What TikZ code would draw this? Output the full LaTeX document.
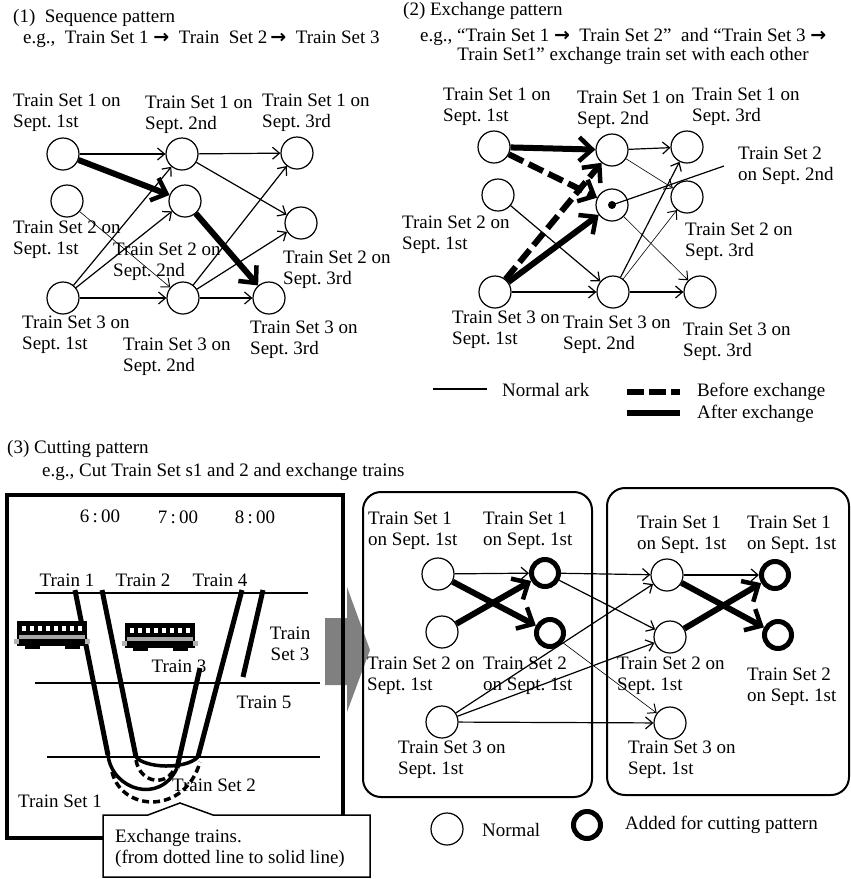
\documentclass[tikz,border=0pt]{standalone}
\usepackage{fontspec}
\setmainfont{Liberation Serif}
\newfontfamily\arrfont{DejaVu Sans}
\usetikzlibrary{arrows.meta}
\newcommand{\tsarrow}{{\arrfont\bfseries →}}
\frenchspacing

\begin{document}
\begin{tikzpicture}[x=1pt,y=-1pt,font=\fontsize{19}{21}\selectfont,
  st/.style={circle,draw,line width=1.2pt,minimum size=32pt,inner sep=0pt},
  cutst/.style={circle,draw,line width=5pt,minimum size=27pt,inner sep=0pt},
  lbl/.style={anchor=west,align=left,inner sep=0pt},
  ark/.style={line width=1.2pt,-{Straight Barb[length=7pt,width=12pt]}},
  fine/.style={line width=0.6pt,-{Straight Barb[length=7pt,width=12pt,line width=1pt]}},
  heavy/.style={line width=6pt,-{Straight Barb[length=13pt,width=24pt,line width=4.5pt]}},
  before/.style={heavy,dash pattern=on 16pt off 6pt},
  route/.style={line width=5pt},
  station/.style={line width=2.2pt},
  turn/.style={line width=3.5pt},
  oldturn/.style={line width=3.5pt,dash pattern=on 7pt off 4pt}]
\useasboundingbox (0,0) rectangle (851,879);
%\draw[very thin,lightgray] (0,0) grid[step=50] (851,879);

% (1) sequence
\node[lbl] (t1) at (13,18) {(1)\ \ Sequence pattern};
\node[lbl] (e1) at (23,39) {e.g.,\ \ Train Set 1 \tsarrow\ \ Train\ \ Set 2\,\tsarrow\ \ Train Set 3};
\node[st] (a1) at (63,154) {};
\node[st] (b1) at (182,154) {};
\node[st] (c1) at (297,153) {};
\node[st] (a2) at (67,201) {};
\node[st] (b2) at (185,201) {};
\node[st] (c2) at (301,223) {};
\node[st] (a3) at (63,298) {};
\node[st] (b3) at (183,298) {};
\node[st] (c3) at (269,298) {};
\node[lbl] (la1) at (13,113) {Train Set 1 on\\Sept. 1st};
\node[lbl] (lb1) at (145,115) {Train Set 1 on\\Sept. 2nd};
\node[lbl] (lc1) at (262,113) {Train Set 1 on\\Sept. 3rd};
\node[lbl] (la2) at (13,240) {Train Set 2 on\\Sept. 1st};
\node[lbl] (lb2) at (113,262) {Train Set 2 on\\Sept. 2nd};
\node[lbl] (lc2) at (283,270) {Train Set 2 on\\Sept. 3rd};
\node[lbl] (la3) at (22,335) {Train Set 3 on\\Sept. 1st};
\node[lbl] (lb3) at (123,357) {Train Set 3 on\\Sept. 2nd};
\node[lbl] (lc3) at (250,340) {Train Set 3 on\\Sept. 3rd};
\draw[ark] (a1) -- (b1);
\draw[ark] (b1) -- (c1);
\draw[ark] (b1) -- (c2);
\draw[fine] (a2) -- (b3);
\draw[ark] (a3) -- (b1);
\draw[ark] (a3) -- (b2);
\draw[ark] (a3) -- (b3);
\draw[ark] (b3) -- (c1);
\draw[ark] (b3) -- (c2);
\draw[ark] (b3) -- (c3);
\draw[heavy] (a1) -- (b2);
\draw[heavy] (b2) -- (c3);

% (2) exchange
\node[lbl] (t2) at (403,11) {(2) Exchange pattern};
\node[lbl] (e2) at (420,37) {e.g., “Train Set 1 \tsarrow\ \ Train Set 2”\ \ and “Train Set 3 \tsarrow};
\node (e2b) at (633,56) {Train Set1” exchange train set with each other};
\node[st] (p1) at (494,147) {};
\node[st] (q1) at (612,150) {};
\node[st] (r1) at (687,147) {};
\node[st] (p2) at (498,195) {};
\node[st] (q2) at (612,205) {};
\node[st] (r2) at (687,197) {};
\node[st] (p3) at (495,292) {};
\node[st] (q3) at (613,292) {};
\node[st] (r3) at (700,292) {};
\node[lbl] (lp1) at (443,107) {Train Set 1 on\\Sept. 1st};
\node[lbl] (lq1) at (577,110) {Train Set 1 on\\Sept. 2nd};
\node[lbl] (lr1) at (692,107) {Train Set 1 on\\Sept. 3rd};
\node[lbl] (lq2) at (738,166) {Train Set 2\\on Sept. 2nd};
\node[lbl] (lp2) at (402,235) {Train Set 2 on\\Sept. 1st};
\node[lbl] (lr2) at (685,242) {Train Set 2 on\\Sept. 3rd};
\node[lbl] (lp3) at (452,330) {Train Set 3 on\\Sept. 1st};
\node[lbl] (lq3) at (563,335) {Train Set 3 on\\Sept. 2nd};
\node[lbl] (lr3) at (683,342) {Train Set 3 on\\Sept. 3rd};
\draw[ark] (q1) -- (r1);
\draw[fine] (q1) -- (r2);
\draw[ark] (p2) -- (q3);
\draw[ark] (p3) -- (q3);
\draw[ark] (q3) -- (r3);
\draw[ark] (q3) -- (r1);
\draw[fine] (q3) -- (r2);
\draw[fine] (q2) -- (r3);
\draw[before] (p1) -- (q2);
\draw[before] (p3) -- (q1);
\draw[heavy] (p1) -- (q1);
\draw[heavy] (p3) -- (q2);
\fill (q2) circle (4);
\draw[line width=1.2pt] (q2.center) -- ([xshift=-14pt]lq2.west);
% legend
\coordinate (g0) at (433,389);
\coordinate (g1) at (487,389);
\draw[line width=1.2pt] (g0) -- (g1);
\node[lbl] (lg) at (502,390) {Normal ark};
\coordinate (g2) at (627,392);
\coordinate (g3) at (680,392);
\draw[line width=6pt,dash pattern=on 17pt off 5pt] (g2) -- (g3);
\node[lbl] (lbef) at (697,392) {Before exchange};
\coordinate (g4) at (627,413);
\coordinate (g5) at (680,413);
\draw[line width=6pt] (g4) -- (g5);
\node[lbl] (laft) at (697,414) {After exchange};

% (3) cutting
\node[lbl] (t3) at (7,449) {(3) Cutting pattern};
\node[lbl] (e3) at (42,472) {e.g., Cut Train Set s1 and 2 and exchange trains};
\fill[gray] (325,618) -- (347,618) -- (347,587) -- (370,650) -- (347,712) -- (347,685) -- (325,685) -- cycle;
\draw[line width=4pt] (7,495) rectangle (343,838);
\node (h6) at (100,516) {6\,:\,00};
\node (h7) at (178,517) {7\,:\,00};
\node (h8) at (255,517) {8\,:\,00};
\draw[station] (35,593) -- (308,593);
\draw[station] (35,683) -- (320,683);
\draw[station] (47,757) -- (320,757);
\draw[route] (75,590) -- (108,755);
\draw[route] (102,590) -- (136,757);
\draw[route] (200,668) -- (177,768);
\draw[route] (242,590) -- (198,757);
\draw[route] (263,590) -- (243,677);
\draw[turn] (108,755) .. controls (112,790) and (160,805) .. (177,768);
\draw[turn] (136,757) .. controls (145,768) and (185,770) .. (198,757);
\draw[oldturn] (136,760) .. controls (140,784) and (168,787) .. (175,767);
\draw[oldturn] (112,772) .. controls (122,812) and (185,815) .. (200,762);
\foreach \cx/\cy in {15/621,123/623}{
  \fill (\cx+2,\cy) rectangle (\cx+72,\cy+25);
  \foreach \k in {0,...,7}
    \fill[white] (\cx+7+\k*8,\cy+5) rectangle (\cx+11+\k*8,\cy+10);
  \fill[gray!70] (\cx+4,\cy+14) rectangle (\cx+70,\cy+18);
  \fill[gray!60] (\cx-1,\cy+18) rectangle (\cx+4,\cy+23);
  \fill[gray!60] (\cx+70,\cy+18) rectangle (\cx+75,\cy+23);
  \fill (\cx+10,\cy+25) rectangle (\cx+25,\cy+28);
  \fill (\cx+50,\cy+25) rectangle (\cx+65,\cy+28);
}
\node (tr1) at (67,580) {Train 1};
\node (tr2) at (143,580) {Train 2};
\node (tr4) at (220,580) {Train 4};
\node[align=center] (ts3) at (290,644) {Train\\Set 3};
\node (tr3) at (179,666) {Train 3};
\node (tr5) at (264,702) {Train 5};
\node (ts1) at (60,801) {Train Set 1};
\node (ts2) at (214,785) {Train Set 2};
\draw[line width=1.5pt,fill=white] (103,815) -- (148,815) -- (180,803) -- (213,815) -- (370,815) -- (370,877) -- (103,877) -- cycle;
\node[lbl] (xch) at (115,848) {Exchange trains.\\(from dotted line to solid line)};

% before / after cutting
\draw[line width=2pt,rounded corners=18pt] (363,492) rectangle (592,797);
\draw[line width=2pt,rounded corners=18pt] (607,488) rectangle (849,795);
\node[st] (m1) at (438,574) {};
\node[cutst] (m1c) at (545,573) {};
\node[st] (m2) at (442,632) {};
\node[cutst] (m2c) at (550,633) {};
\node[st] (m3) at (442,722) {};
\node[lbl] (lm1) at (368,531) {Train Set 1\\on Sept. 1st};
\node[lbl] (lm1c) at (483,531) {Train Set 1\\on Sept. 1st};
\node[lbl] (lm2) at (367,676) {Train Set 2 on\\Sept. 1st};
\node[lbl] (lm2c) at (483,676) {Train Set 2\\on Sept. 1st};
\node[lbl] (lm3) at (398,760) {Train Set 3 on\\Sept. 1st};
\node[st] (n1) at (667,575) {};
\node[cutst] (n1c) at (775,575) {};
\node[st] (n2) at (670,637) {};
\node[cutst] (n2c) at (778,635) {};
\node[st] (n3) at (670,723) {};
\node[lbl] (ln1) at (637,535) {Train Set 1\\on Sept. 1st};
\node[lbl] (ln1c) at (747,535) {Train Set 1\\on Sept. 1st};
\node[lbl] (ln2) at (617,676) {Train Set 2 on\\Sept. 1st};
\node[lbl] (ln2c) at (747,687) {Train Set 2\\on Sept. 1st};
\node[lbl] (ln3) at (628,760) {Train Set 3 on\\Sept. 1st};
\draw[ark] (m1) -- (m1c);
\draw[ark] (m3) -- (n3);
\draw[ark] (m3) -- (n1);
\draw[ark] (m3) -- (n2);
\draw[ark] (m1c) -- (n1);
\draw[ark] (m1c) -- (n2);
\draw[fine] (m2c) -- (n3);
\draw[ark] (n1) -- (n1c);
\draw[heavy] (m1) -- (m2c);
\draw[heavy] (m2) -- (m1c);
\draw[heavy] (n1) -- (n2c);
\draw[heavy] (n2) -- (n1c);
% legend
\node[st] (lgn) at (447,829) {};
\node[lbl] (lgnt) at (482,830) {Normal};
\node[cutst] (lgc) at (587,825) {};
\node[lbl] (lgct) at (625,825) {Added for cutting pattern};
\end{tikzpicture}
\end{document}
